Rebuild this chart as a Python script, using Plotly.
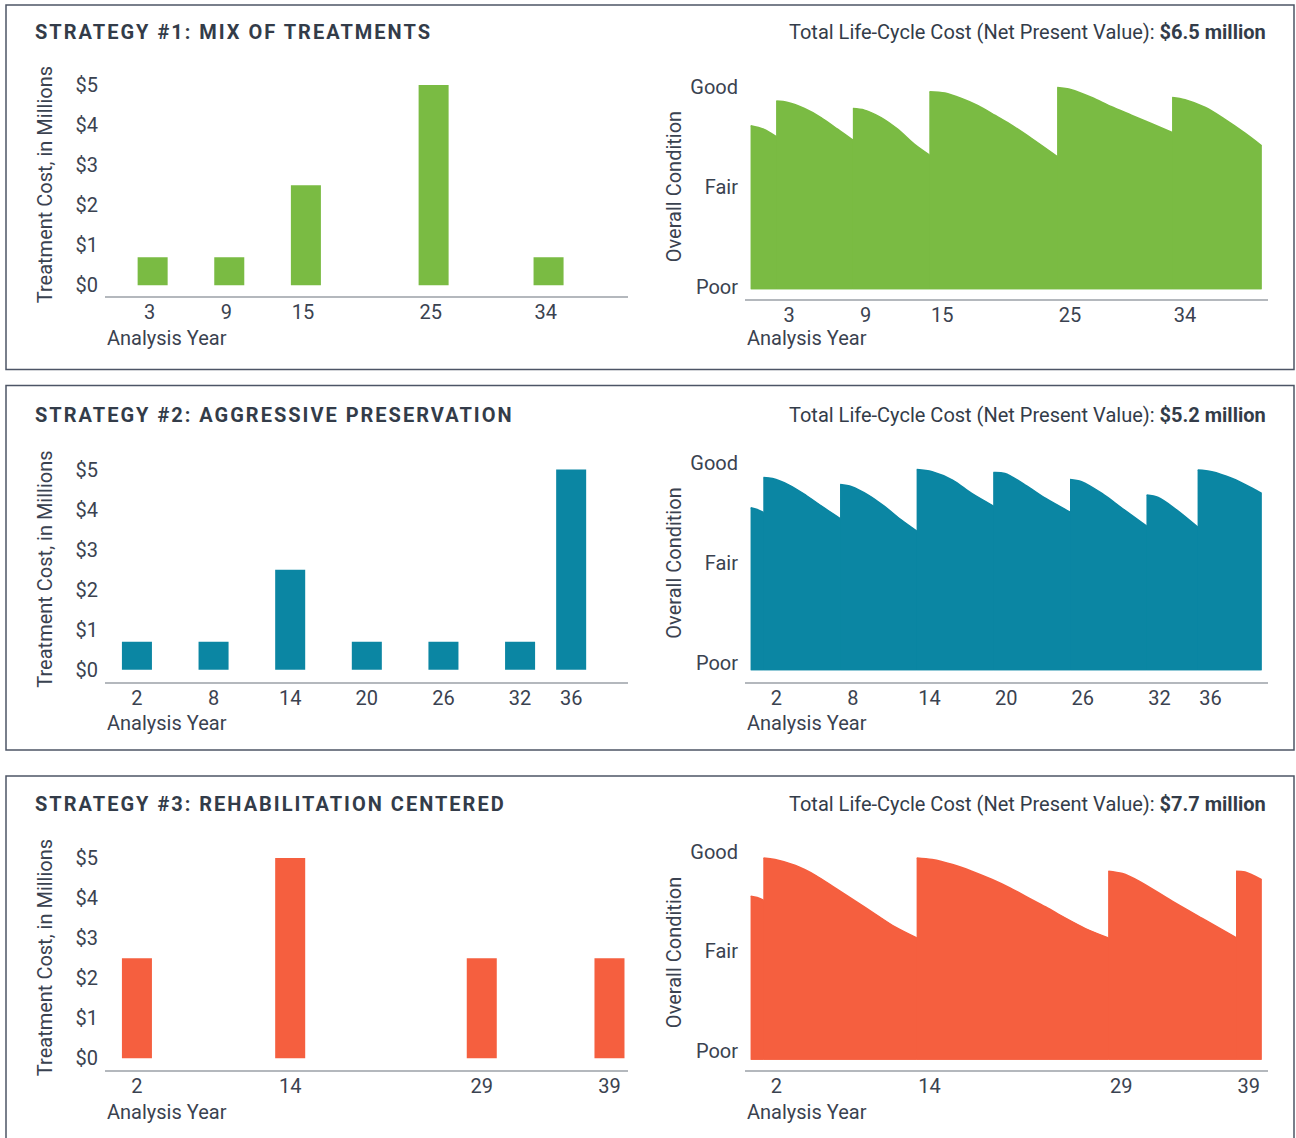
import plotly.graph_objects as go

W, H = 1296, 1138

# ---------------- data ----------------
titles = ["STRATEGY #1: MIX OF TREATMENTS",
          "STRATEGY #2: AGGRESSIVE PRESERVATION",
          "STRATEGY #3: REHABILITATION CENTERED"]
npv_text = ["$6.5 million", "$5.2 million", "$7.7 million"]
colors = ["#7ABB43", "#0B86A3", "#F55F3F"]

s1_years = [3, 9, 15, 25, 34]
s1_costs = [0.7, 0.7, 2.5, 5.0, 0.7]
s2_years = [2, 8, 14, 20, 26, 32, 36]
s2_costs = [0.7, 0.7, 2.5, 0.7, 0.7, 0.7, 5.0]
s3_years = [2, 14, 29, 39]
s3_costs = [2.5, 5.0, 2.5, 2.5]

cost_ticks = [0, 1, 2, 3, 4, 5]
cost_labels = ["$0", "$1", "$2", "$3", "$4", "$5"]
cond_labels = ["Poor", "Fair", "Good"]

# condition profiles (year, condition score); repeated year = jump after treatment
s1_cond_x = [0, 1.0, 2,
             2, 2.9, 4.2, 5.5, 6.8, 8,
             8, 8.9, 10.2, 11.5, 12.8, 14,
             14, 15.2, 16.5, 17.8, 19.1, 20.3, 22, 24,
             24, 25.1, 26.7, 28.2, 29.8, 31.4, 33,
             33, 34, 35.6, 37.1, 38.7, 40]
s1_cond_y = [81.7, 80, 76.3,
             94, 93.3, 90.3, 85.8, 80, 74.5,
             90.3, 89.5, 85.8, 80, 72.5, 67,
             98.7, 98, 95.3, 91.7, 87, 82.5, 75.3, 66.3,
             100.8, 99.7, 95.8, 91.3, 87, 82.7, 78.3,
             95.8, 94.7, 90.8, 85, 78, 71.7]

s2_cond_x = [0, 0.5, 1,
             1, 1.7, 3, 4.3, 5.6, 7,
             7, 7.9, 9.2, 10.5, 11.8, 13,
             13, 14.2, 15.8, 17.3, 19,
             19, 19.9, 21.5, 23.1, 25,
             25, 25.9, 27.5, 29.1, 31,
             31, 31.9, 33.2, 35,
             35, 36.1, 37.7, 39.3, 40]
s2_cond_y = [81.2, 80.3, 78.8,
             96.3, 95.8, 92.5, 87.5, 81.7, 75.8,
             92.8, 91.7, 87.5, 81.7, 75, 69.5,
             100.3, 99.2, 95, 88.3, 82,
             98.8, 98.3, 92.5, 85.8, 79,
             95.3, 94.2, 88.3, 80.8, 72,
             87.5, 86.3, 80.8, 71.5,
             100, 99.2, 95.8, 90.8, 88.3]

s3_cond_x = [0, 0.5, 1,
             1, 1.9, 3.5, 5.1, 6.6, 8.2, 9.8, 11.3, 13,
             13, 14.2, 15.8, 17.3, 18.9, 20.3, 21.5, 23.1, 24.6, 26.2, 28,
             28, 29.1, 30.4, 33, 35.6, 38,
             38, 38.7, 40]
s3_cond_y = [81.7, 81, 79.7,
             100.8, 100, 97, 92, 85.8, 79.2, 72.5, 66.3, 60.8,
             100.8, 100, 97.5, 94.2, 90, 85.8, 81.7, 76.3, 70.8, 65.5, 60.8,
             94.2, 93, 89.2, 79.2, 69.7, 61,
             94.2, 93.8, 90]

bar_years = [s1_years, s2_years, s3_years]
bar_costs = [s1_costs, s2_costs, s3_costs]
cond_x = [s1_cond_x, s2_cond_x, s3_cond_x]
cond_y = [s1_cond_y, s2_cond_y, s3_cond_y]

# ---------------- layout geometry (pixels) ----------------
panels = [
    dict(top=6, bottom=370, title_y=33, bar_base=286, bar_axis=297, area_base=290, area_axis=300,
         cond_ticks=[1, 51, 101], ytitle_bar=186, ytitle_area=188, ay_bar=339, ay_area=339, bar_shift=0.23),
    dict(top=386, bottom=750, title_y=416, bar_base=670, bar_axis=682, area_base=670.5, area_axis=682,
         cond_ticks=[3.75, 53.75, 103.75], ytitle_bar=570, ytitle_area=564, ay_bar=723, ay_area=723,
         bar_shift=0.0),
    dict(top=776, bottom=1142, title_y=804, bar_base=1058, bar_axis=1070, area_base=1059.5, area_axis=1070,
         cond_ticks=[4.25, 54.25, 103.75], ytitle_bar=958, ytitle_area=953, ay_bar=1112, ay_area=1112,
         bar_shift=0.0),
]

TEXT = "#3A4250"
TITLE = "#333C49"
AXIS = "#B4B8BD"
BORDER = "#4D5566"
FONT = "Roboto"
BAR_W = 2.35


def fx(px):
    return px / W


def fy(px):
    # compensate a small measured vertical drift of the capture
    px = (px - 4.0) / 0.9953
    return 1 - px / H


def split_segments(xs, ys):
    segs = []
    cx, cy = [xs[0]], [ys[0]]
    for k in range(1, len(xs)):
        if xs[k] == xs[k - 1]:
            segs.append((cx, cy))
            cx, cy = [xs[k]], [ys[k]]
        else:
            cx.append(xs[k])
            cy.append(ys[k])
    segs.append((cx, cy))
    return segs


fig = go.Figure()
layout = dict(width=W, height=H, margin=dict(l=0, r=0, t=0, b=0),
              paper_bgcolor="white", plot_bgcolor="white", showlegend=False,
              font=dict(family=FONT, size=20, color=TEXT))
annotations = []
shapes = []

for i, p in enumerate(panels):
    kb, ka = 2 * i + 1, 2 * i + 2
    col = colors[i]
    # bar chart
    fig.add_trace(go.Bar(x=bar_years[i], y=bar_costs[i], width=BAR_W, offset=-BAR_W / 2 + p["bar_shift"],
                         marker=dict(color=col, line=dict(width=0)),
                         xaxis=f"x{kb}", yaxis=f"y{kb}", hoverinfo="skip"))
    layout[f"xaxis{kb}"] = dict(domain=[fx(105), fx(628)], range=[-0.5, 40.45], anchor=f"y{kb}",
                                tickvals=bar_years[i], ticktext=[str(v) for v in bar_years[i]],
                                showline=True, linecolor=AXIS, linewidth=1.5, showgrid=False,
                                zeroline=False, ticks="", ticklen=0, ticklabelstandoff=-3,
                                tickfont=dict(size=20, color=TEXT))
    layout[f"yaxis{kb}"] = dict(domain=[fy(p["bar_axis"]), fy(p["bar_base"] - 212)],
                                range=[-(p["bar_axis"] - p["bar_base"]) / 40, 212 / 40], anchor=f"x{kb}",
                                tickvals=cost_ticks, ticktext=cost_labels, showgrid=False, zeroline=False,
                                showline=False, ticks="", ticklen=0, ticklabelstandoff=6,
                                tickfont=dict(size=20, color=TEXT))
    # condition area chart: a linear base polygon plus smooth segments on top
    fig.add_trace(go.Scatter(x=cond_x[i], y=cond_y[i], mode="lines", line=dict(color=col, width=0),
                             fill="tozeroy", fillcolor=col,
                             xaxis=f"x{ka}", yaxis=f"y{ka}", hoverinfo="skip"))
    for sx, sy in split_segments(cond_x[i], cond_y[i]):
        fig.add_trace(go.Scatter(x=sx, y=sy, mode="lines",
                                 line=dict(color=col, width=1.5, shape="spline", smoothing=0.9),
                                 fill="tozeroy", fillcolor=col,
                                 xaxis=f"x{ka}", yaxis=f"y{ka}", hoverinfo="skip"))
    layout[f"xaxis{ka}"] = dict(domain=[fx(745), fx(1268)], range=[-0.45, 40.5], anchor=f"y{ka}",
                                tickvals=bar_years[i], ticktext=[str(v) for v in bar_years[i]],
                                showline=True, linecolor=AXIS, linewidth=1.5, showgrid=False,
                                zeroline=False, ticks="", ticklen=0, ticklabelstandoff=-3,
                                tickfont=dict(size=20, color=TEXT))
    layout[f"yaxis{ka}"] = dict(domain=[fy(p["area_axis"]), fy(p["area_base"] - 216)],
                                range=[-(p["area_axis"] - p["area_base"]) / 2, 108], anchor=f"x{ka}",
                                tickvals=p["cond_ticks"], ticktext=cond_labels, showgrid=False,
                                zeroline=False, showline=False, ticks="", ticklen=0, ticklabelstandoff=6,
                                tickfont=dict(size=20, color=TEXT))

    # texts
    annotations.append(dict(text="<span style='letter-spacing:2px'>" + titles[i] + "</span>",
                            x=fx(33), y=fy(p["title_y"]), xref="paper", yref="paper",
                            xanchor="left", yanchor="middle", showarrow=False,
                            font=dict(family=FONT, size=20, color=TITLE, weight=700)))
    annotations.append(dict(text="Total Life-Cycle Cost (Net Present Value): <b>" + npv_text[i] + "</b>",
                            x=fx(1268), y=fy(p["title_y"]), xref="paper", yref="paper",
                            xanchor="right", yanchor="middle", showarrow=False,
                            font=dict(family=FONT, size=20, color=TITLE)))
    annotations.append(dict(text="Treatment Cost, in Millions", x=fx(45), y=fy(p["ytitle_bar"]),
                            xref="paper", yref="paper", textangle=-90, xanchor="center", yanchor="middle",
                            showarrow=False, font=dict(family=FONT, size=20, color=TEXT)))
    annotations.append(dict(text="Overall Condition", x=fx(674), y=fy(p["ytitle_area"]),
                            xref="paper", yref="paper", textangle=-90, xanchor="center", yanchor="middle",
                            showarrow=False, font=dict(family=FONT, size=20, color=TEXT)))
    annotations.append(dict(text="Analysis Year", x=fx(105), y=fy(p["ay_bar"]), xref="paper", yref="paper",
                            xanchor="left", yanchor="middle", showarrow=False,
                            font=dict(family=FONT, size=20, color=TEXT)))
    annotations.append(dict(text="Analysis Year", x=fx(745), y=fy(p["ay_area"]), xref="paper", yref="paper",
                            xanchor="left", yanchor="middle", showarrow=False,
                            font=dict(family=FONT, size=20, color=TEXT)))
    shapes.append(dict(type="rect", xref="paper", yref="paper", x0=fx(6), x1=fx(1294),
                       y0=fy(p["bottom"]), y1=fy(p["top"]), line=dict(color=BORDER, width=1.5),
                       fillcolor="rgba(0,0,0,0)", layer="below"))

layout["annotations"] = annotations
layout["shapes"] = shapes
fig.update_layout(**layout)
fig.write_html("out.html")
